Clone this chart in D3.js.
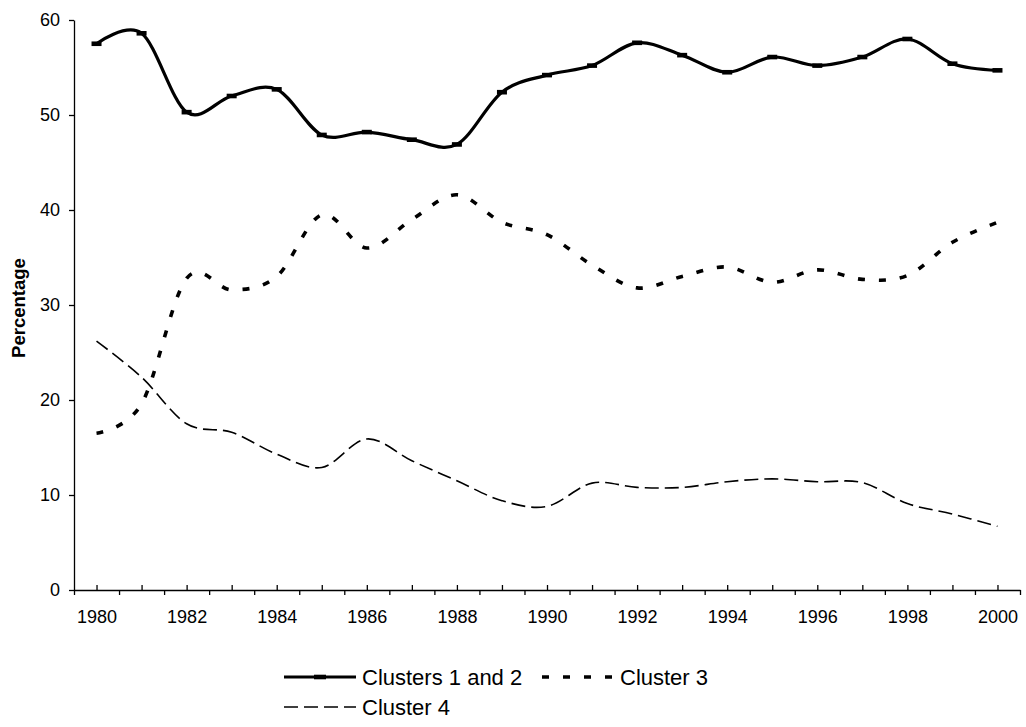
<!DOCTYPE html>
<html>
<head>
<meta charset="utf-8">
<script src="https://cdn.jsdelivr.net/npm/d3@7"></script>
<style>
    body { margin: 0; background: #fff; }
    text { font-family: "Liberation Sans", Arial, sans-serif; fill: #000; }
</style>
</head>
<body>
<div id="chart"></div>
<script>
// Years on the x axis
const years = [1980, 1981, 1982, 1983, 1984, 1985, 1986, 1987, 1988, 1989, 1990,
               1991, 1992, 1993, 1994, 1995, 1996, 1997, 1998, 1999, 2000];

// Percentages per cluster group
const clusters12 = [57.5, 58.6, 50.3, 52.0, 52.7, 47.9, 48.2, 47.4, 46.9, 52.4, 54.2,
                    55.2, 57.6, 56.3, 54.5, 56.1, 55.2, 56.1, 58.0, 55.4, 54.7];
const cluster3 = [16.5, 19.6, 32.8, 31.6, 33.0, 39.5, 36.0, 39.0, 41.6, 38.7, 37.4,
                  34.2, 31.8, 33.0, 34.0, 32.4, 33.7, 32.7, 33.1, 36.6, 38.7];
const cluster4 = [26.2, 22.4, 17.5, 16.6, 14.3, 12.9, 15.9, 13.6, 11.5, 9.4, 8.8,
                  11.25, 10.8, 10.8, 11.4, 11.7, 11.4, 11.3, 9.1, 8.0, 6.7];

const yTicks = [0, 10, 20, 30, 40, 50, 60];
const seriesNames = ["Clusters 1 and 2", "Cluster 3", "Cluster 4"];

// Set margins and dimensions
const margin = { top: 20, right: 6, bottom: 137, left: 74 };
const width = 1026 - margin.left - margin.right;
const height = 727 - margin.top - margin.bottom;

let svg = d3.select("#chart")
    .append("svg")
    .attr("width", 1026)
    .attr("height", 727)
    .append("g")
    .attr("transform", `translate(${margin.left}, ${margin.top})`);

// Scales
let x = d3.scaleLinear()
    .domain([years[0] - 0.5, years[years.length - 1] + 0.5])
    .range([0, 946]);

let y = d3.scaleLinear()
    .domain([0, 60])
    .range([height, 0]);

// Y axis
svg.append("g")
    .call(d3.axisLeft(y).tickValues(yTicks).tickSize(5).tickSizeOuter(0).tickPadding(9))
    .call(g => g.selectAll("text").style("font-size", "18px"));

// X axis: outer ticks between years, inner ticks on years
let halfYears = [years[0] - 0.5].concat(years.map(d => d + 0.5));

svg.append("g")
    .attr("transform", `translate(0, ${height})`)
    .call(d3.axisBottom(x).tickValues(halfYears).tickSize(5).tickSizeOuter(0).tickFormat(""));

svg.append("g")
    .attr("transform", `translate(0, ${height})`)
    .call(d3.axisBottom(x).tickValues(years).tickSize(-5).tickSizeOuter(0).tickPadding(20)
        .tickFormat(d => d % 2 === 0 ? d : ""))
    .call(g => g.select(".domain").remove())
    .call(g => g.selectAll("text").style("font-size", "18px"));

svg.selectAll(".domain, .tick line").attr("stroke", "#000").attr("stroke-width", 1.3);

// Axis title
svg.append("text")
    .attr("transform", "rotate(-90)")
    .attr("x", -height / 2 - 3)
    .attr("y", -49)
    .attr("text-anchor", "middle")
    .style("font-size", "18.5px")
    .style("font-weight", "bold")
    .text("Percentage");

// Line generator (smoothed like the original)
let line = d3.line()
    .x((d, i) => x(years[i]))
    .y(d => y(d))
    .curve(d3.curveCardinal.tension(0));

const styles = [
    { width: 3.2, dash: null },
    { width: 3.6, dash: "7,14" },
    { width: 1.6, dash: "14,6" }
];

[clusters12, cluster3, cluster4].forEach((values, k) => {
    svg.append("path")
        .datum(values)
        .attr("fill", "none")
        .attr("stroke", "#000")
        .attr("stroke-width", styles[k].width)
        .attr("stroke-dasharray", styles[k].dash)
        .attr("d", line);
});

// Dash markers on the solid series
svg.selectAll(".marker")
    .data(clusters12)
    .enter().append("rect")
    .attr("class", "marker")
    .attr("x", (d, i) => x(years[i]) - 5)
    .attr("y", d => y(d) - 2.3)
    .attr("width", 10)
    .attr("height", 4.6)
    .attr("fill", "#000");

// Legend
const legendItems = [
    { lx: 210, ly: 657, k: 0 },
    { lx: 468, ly: 657, k: 1 },
    { lx: 210, ly: 687, k: 2 }
];

legendItems.forEach(item => {
    let g = svg.append("g").attr("transform", `translate(${item.lx}, ${item.ly})`);
    let s = styles[item.k];
    g.append("line")
        .attr("x1", 0).attr("x2", 72)
        .attr("y1", 0).attr("y2", 0)
        .attr("stroke", "#000")
        .attr("stroke-width", s.width)
        .attr("stroke-dasharray", s.dash);
    if (item.k === 0) {
        g.append("rect")
            .attr("x", 30).attr("y", -2.3)
            .attr("width", 12).attr("height", 4.6)
            .attr("fill", "#000");
    }
    g.append("text")
        .attr("x", 78)
        .attr("y", 8)
        .style("font-size", "22px")
        .text(seriesNames[item.k]);
});
</script>
</body>
</html>
